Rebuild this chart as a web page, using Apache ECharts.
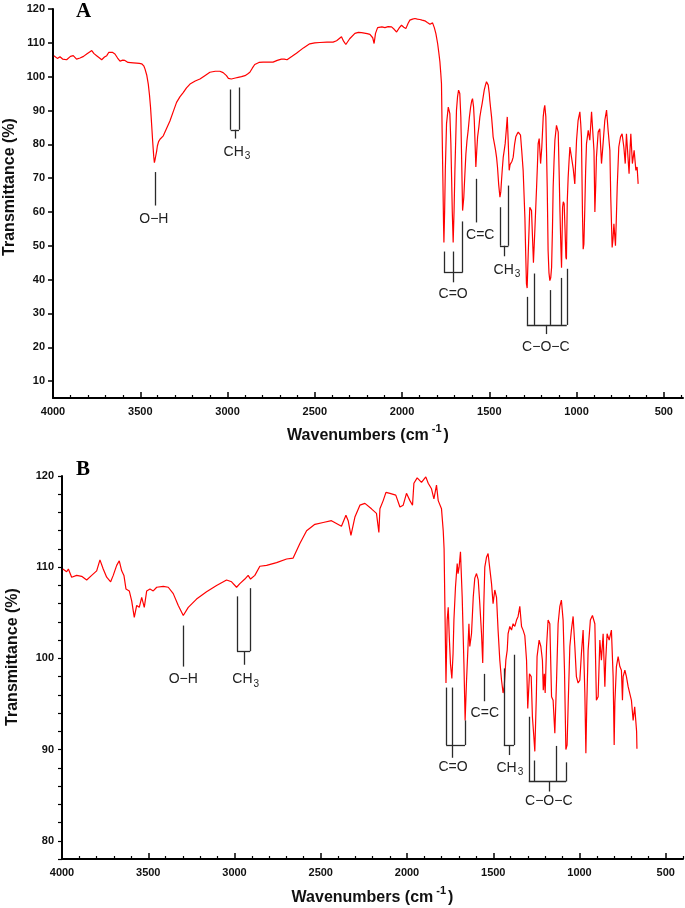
<!DOCTYPE html>
<html>
<head>
<meta charset="utf-8">
<title>FTIR spectra A / B</title>
<script src="https://cdn.jsdelivr.net/npm/echarts@6/dist/echarts.min.js"></script>
<style>
  html, body { margin: 0; padding: 0; background: #fff; }
  #chart { width: 685px; height: 908px; }
</style>
</head>
<body>
<div id="chart"></div>
<script>
// wavenumber (cm-1), transmittance (%)
var spectrumA = [
  [3995,106.2],[3975,105.4],[3960,105.9],[3945,105.2],[3922,105],[3900,106],[3884,106.2],[3865,105.2],
  [3845,105.5],[3825,106],[3807,106.7],[3790,107.3],[3778,107.7],[3765,106.8],[3750,106.2],[3735,105.6],
  [3721,105],[3705,105.8],[3692,106.2],[3680,107.2],[3673,107.7],[3660,107.2],[3645,106.7],[3630,105.5],
  [3616,104.6],[3600,104.9],[3588,104.8],[3570,104.2],[3559,104.3],[3540,104.1],[3521,104],[3505,103.9],
  [3492,103.8],[3480,103.2],[3473,102.3],[3463,100.5],[3454,97.8],[3447,94.5],[3441,90.9],[3435,86],
  [3429,81],[3423,76.5],[3419,74.6],[3414,75.8],[3410,76],[3406,78],[3402,79.5],[3395,80.8],[3387,81.5],
  [3378,82],[3368,82.5],[3350,84.6],[3330,86.9],[3310,89.8],[3292,92.4],[3272,94.1],[3254,95.3],
  [3235,96.7],[3215,97.8],[3185,98.7],[3158,99.3],[3130,100.3],[3101,101.3],[3070,101.6],[3044,101.6],
  [3025,101.2],[3006,100.3],[2995,99.5],[2987,99],[2978,99.3],[2968,99.3],[2955,99.6],[2939,99.8],
  [2920,100],[2900,100.3],[2885,100.8],[2872,101.3],[2858,102.5],[2844,103.6],[2820,104.2],[2796,104.3],
  [2770,104.3],[2739,104.3],[2715,104.8],[2691,105.2],[2675,105.2],[2659,105],[2630,106],[2605,106.9],
  [2565,108.5],[2529,109.7],[2500,110],[2471,110.1],[2430,110.2],[2395,110.2],[2375,110.6],[2366,110.7],
  [2347,111.8],[2335,110.5],[2322,109.5],[2300,111.2],[2270,112.8],[2250,113.1],[2232,113],[2200,112.7],
  [2184,112.5],[2168,111.5],[2160,109.8],[2152,112.8],[2140,114.5],[2131,114.9],[2115,114.7],[2098,114.5],
  [2080,114.8],[2060,114.7],[2045,114],[2031,113.2],[2015,114.5],[2003,115.2],[1990,114.6],[1978,114.2],
  [1965,115.8],[1955,116.7],[1940,117],[1926,117.2],[1912,117],[1898,116.9],[1885,116.7],[1869,116.5],
  [1855,116],[1840,115.5],[1825,115.9],[1815,114.5],[1806,112.7],[1796,109.8],[1789,107],[1783,104.4],
  [1778,101],[1774,98],[1770,83.2],[1766,70],[1762,56],[1760,51],[1756,60],[1752,72.3],[1745,86.1],
  [1735,91],[1730,90.5],[1726,89.1],[1720,80],[1716,70.3],[1712,60],[1707,51],[1702,60],[1697,72.3],
  [1692,82],[1688,90.1],[1682,94],[1676,96],[1669,95],[1663,88],[1659,77.2],[1653,60.4],[1646,64.4],
  [1640,71],[1634,77.2],[1628,81],[1621,84.1],[1614,88],[1607,91],[1601,92.8],[1596,93.5],[1590,91],
  [1586,87.1],[1580,78],[1577,73.3],[1572,78],[1567,82.2],[1560,85],[1554,88.1],[1548,90],[1541,92],
  [1535,94],[1529,96],[1522,97.5],[1516,98.5],[1510,98.2],[1506,97.5],[1500,95],[1497,93],[1492,90.5],
  [1487,88.1],[1482,85],[1478,82.2],[1470,80],[1464,78.2],[1458,76],[1453,73.3],[1446,68],[1439,64.4],
  [1434,66],[1430,69.3],[1425,73],[1420,76.2],[1415,78],[1409,80.2],[1403,84],[1397,88.1],[1391,80],
  [1386,72.3],[1381,74],[1376,74.3],[1370,75],[1363,76.2],[1355,80],[1348,82.2],[1341,83],[1334,83.6],
  [1328,83.5],[1321,82.7],[1314,78],[1306,72.3],[1300,64],[1296,58.4],[1291,47],[1287,38.7],[1283,37.5],
  [1277,47.6],[1272,55],[1268,61.4],[1262,61],[1258,60.4],[1252,52],[1247,45],[1245,44.6],[1239,54.5],
  [1234,61],[1229,67.3],[1224,74],[1220,80.2],[1214,81.7],[1206,74.3],[1199,79.2],[1191,88.1],[1186,90.5],
  [1182,91.5],[1176,88.1],[1172,78],[1168,67.3],[1163,48.6],[1158,42],[1153,39.7],[1148,40.5],[1143,43.6],
  [1138,55],[1134,67.3],[1129,75],[1124,81.2],[1115,85.6],[1105,83.6],[1100,72.3],[1095,60],[1090,50],
  [1086,43.5],[1080,61.4],[1076,63],[1071,62.4],[1066,55],[1061,46.6],[1058,46],[1053,63.4],[1048,70.3],
  [1043,75],[1038,79.2],[1029,76.2],[1019,72.8],[1010,68.3],[1005,75],[1000,81.2],[991,87.1],[981,89.6],
  [976,86],[972,82.2],[966,59.4],[962,49],[958,50.5],[953,60.4],[948,72],[943,80.2],[933,84.1],[924,81.2],
  [914,89.6],[905,89.6],[900,78],[895,60],[890,68],[886,76.2],[876,83.6],[867,84.6],[857,74.3],[848,80.2],
  [838,87.1],[828,90.1],[819,84.1],[809,78.2],[804,64.4],[796,49.5],[791,52],[786,56.5],[777,50],[772,58],
  [767,67.3],[758,79.2],[748,82.2],[739,83.1],[729,79.2],[721,74.3],[714,83.1],[704,83.6],[699,71.3],
  [694,78],[689,83.1],[680,74.3],[670,78.2],[660,72.3],[653,73.3],[647,68.3]
];

var spectrumB = [
  [3995,109.8],[3973,109.5],[3963,109.8],[3944,108.9],[3915,109.1],[3886,109],[3857,108.6],[3828,109.1],
  [3799,109.6],[3780,110.8],[3761,109.8],[3741,108.9],[3718,108.4],[3703,109.1],[3683,110.2],[3668,110.7],
  [3654,109.6],[3641,109.1],[3629,107.6],[3610,107.4],[3596,106.3],[3581,104.5],[3567,105.8],[3552,105.6],
  [3538,106.7],[3523,105.6],[3509,107.4],[3490,107.6],[3471,107.4],[3451,107.8],[3413,107.9],[3384,107.8],
  [3355,107.1],[3326,105.8],[3297,104.7],[3268,105.6],[3220,106.5],[3162,107.3],[3104,108],[3046,108.6],
  [3017,108.4],[2988,107.8],[2969,108.2],[2940,108.7],[2921,109.1],[2907,108.7],[2882,109.1],[2853,110.1],
  [2814,110.2],[2756,110.5],[2698,110.9],[2660,111],[2621,112.6],[2582,114],[2534,114.7],[2486,114.9],
  [2438,115.1],[2409,114.8],[2380,114.5],[2354,115.7],[2341,115.1],[2325,113.5],[2302,115.5],[2273,116.8],
  [2244,117],[2206,116.4],[2177,115.9],[2163,113.8],[2157,116.4],[2138,117.3],[2122,118.2],[2099,118.1],
  [2065,117.9],[2041,116.6],[2022,116.8],[2003,118.1],[1983,117.3],[1968,116.8],[1960,119.2],[1941,119.8],
  [1916,119.3],[1891,119.9],[1877,119.2],[1858,118.6],[1844,117.5],[1829,119],[1819,117.3],[1800,116.4],
  [1790,114],[1785,112],[1779,104],[1774,97.3],[1767,104.2],[1761,105.6],[1755,102.4],[1748,99.4],
  [1740,97.8],[1733,100.5],[1728,104.2],[1719,107.8],[1709,110.4],[1704,109.3],[1698,110],[1690,111.7],
  [1680,106.7],[1670,99.4],[1663,93.2],[1655,97.5],[1647,101],[1641,103.8],[1636,101.3],[1626,102.7],
  [1616,106.7],[1607,108.8],[1597,109.3],[1587,108.6],[1578,106],[1568,102.7],[1561,99.5],[1555,105.7],
  [1549,110],[1539,111.1],[1530,111.5],[1520,111.5],[1510,108.2],[1501,106],[1491,107.5],[1481,106.7],
  [1472,103.1],[1462,99.8],[1452,97.6],[1443,96.2],[1436,97],[1427,99.8],[1419,100.9],[1414,102.7],
  [1404,103.5],[1394,103.1],[1385,103.8],[1375,103.5],[1365,104.2],[1356,104.6],[1346,105.7],[1336,103.5],
  [1327,103.1],[1317,102.5],[1307,99.8],[1300,94.5],[1290,98.3],[1280,98],[1273,93.6],[1265,91.5],
  [1259,89.8],[1250,96],[1246,100.2],[1234,102],[1224,101.3],[1215,99.8],[1210,96.5],[1204,98.3],
  [1199,96.2],[1191,101.3],[1182,104.2],[1172,103.8],[1162,95.8],[1153,95.4],[1143,91.8],[1133,97.6],
  [1124,103.8],[1114,105.7],[1105,106.4],[1095,104.2],[1087,98.7],[1079,90],[1072,90.5],[1066,94.7],
  [1056,101.3],[1047,103.1],[1037,104.6],[1027,101.3],[1018,98],[1008,97.3],[998,97.6],[989,100.5],
  [979,103.1],[969,96.2],[963,89.6],[958,94.7],[950,100.9],[937,104.2],[925,104.7],[911,103.8],[902,95.4],
  [892,95.8],[882,102],[873,99.8],[863,102.7],[853,96.9],[848,99.8],[840,102.7],[828,102],[815,103.1],
  [805,98],[799,90.5],[795,95.1],[786,99.1],[776,100.2],[766,99.1],[757,98.7],[751,95.4],[747,98],
  [737,98.7],[728,98],[718,96.9],[709,96.2],[699,95.4],[689,93.2],[680,94.7],[674,94.7],[669,92],[667,90.1]
];

// tick positions
var xMajorTicks = [500, 1000, 1500, 2000, 2500, 3000, 3500, 4000];
var xMinorTicks = [400, 600, 700, 800, 900, 1100, 1200, 1300, 1400, 1600, 1700, 1800, 1900,
  2100, 2200, 2300, 2400, 2600, 2700, 2800, 2900, 3100, 3200, 3300, 3400, 3600, 3700, 3800, 3900];
var yTicksA = [10, 20, 30, 40, 50, 60, 70, 80, 90, 100, 110, 120];
var yLabelsB = [80, 90, 100, 110, 120];

// band assignment brackets, segments in data coordinates
var bracketsA = [
  [[3416, 71.8], [3416, 61.9]],
  [[2982, 96.2], [2982, 84.3]], [[2934, 96.8], [2934, 84.3]], [[2982, 84.3], [2934, 84.3]], [[2956, 84.3], [2956, 81.7]],
  [[1760, 48.3], [1760, 42.1]], [[1707, 48.3], [1707, 39.2]], [[1653, 57.2], [1653, 42.1]], [[1760, 42.1], [1653, 42.1]],
  [[1573, 69.8], [1573, 56.9]],
  [[1439, 61.4], [1439, 50]], [[1390, 67.8], [1390, 50]], [[1439, 50], [1390, 50]], [[1416, 50], [1416, 46.9]],
  [[1285, 34.9], [1285, 26.6]], [[1245, 41.8], [1245, 26.6]], [[1153, 36.9], [1153, 26.6]],
  [[1086, 40.5], [1086, 26.6]], [[1056, 43.2], [1056, 26.6]], [[1285, 26.6], [1056, 26.6]], [[1176, 26.6], [1176, 23.9]]
];
var bracketsB = [
  [[3297, 103.6], [3297, 99.1]],
  [[2986, 106.8], [2986, 100.8]], [[2909, 107.7], [2909, 100.8]], [[2986, 100.8], [2909, 100.8]], [[2946, 100.8], [2946, 99.3]],
  [[1773, 96.8], [1773, 90.5]], [[1736, 96.8], [1736, 89.1]], [[1663, 93.2], [1663, 90.5]], [[1773, 90.5], [1663, 90.5]],
  [[1555, 98.3], [1555, 95.3]],
  [[1439, 98.9], [1439, 90.5]], [[1379, 100.4], [1379, 90.5]], [[1439, 90.5], [1379, 90.5]], [[1408, 90.5], [1408, 89.4]],
  [[1294, 93.6], [1294, 86.5]], [[1263, 88.8], [1263, 86.5]], [[1137, 90.4], [1137, 86.5]],
  [[1078, 88.6], [1078, 86.5]], [[1294, 86.5], [1078, 86.5]], [[1178, 86.5], [1178, 85.4]]
];
var bandLabelsA = [
  { text: 'O\u2212H', at: [3422, 57.9] },
  { text: '{t|CH}{s|3}', at: [2946, 77.7] },
  { text: 'C=O', at: [1707, 35.8] },
  { text: 'C=C', at: [1552, 53.2] },
  { text: '{t|CH}{s|3}', at: [1399, 42.9] },
  { text: 'C\u2212O\u2212C', at: [1176, 20.1] }
];
var bandLabelsB = [
  { text: 'O\u2212H', at: [3297, 97.7] },
  { text: '{t|CH}{s|3}', at: [2935, 97.7] },
  { text: 'C=O', at: [1733, 88.1] },
  { text: 'C=C', at: [1549, 94.0] },
  { text: '{t|CH}{s|3}', at: [1404, 88.0] },
  { text: 'C\u2212O\u2212C', at: [1178, 84.3] }
];

var sans = 'Liberation Sans, Arial, sans-serif';

function markLines(segs) {
  return {
    silent: true,
    symbol: ['none', 'none'],
    label: { show: false },
    lineStyle: { color: '#2a2a2a', width: 1.3, type: 'solid' },
    emphasis: { disabled: true },
    data: segs.map(function (s) { return [{ coord: s[0] }, { coord: s[1] }]; })
  };
}

function markLabels(list) {
  return {
    silent: true,
    symbol: 'circle',
    symbolSize: 1,
    itemStyle: { color: 'rgba(0,0,0,0)' },
    label: {
      show: true,
      position: 'inside',
      color: '#222',
      fontFamily: sans,
      fontSize: 14,
      rich: {
        t: { fontFamily: sans, fontSize: 14, color: '#222', lineHeight: 16 },
        s: { fontFamily: sans, fontSize: 10, color: '#222', lineHeight: 16, padding: [9, 0, 0, 1] }
      }
    },
    data: list.map(function (l) {
      return { coord: l.at, label: { formatter: l.text } };
    })
  };
}

var xNameStyle = {
  rich: {
    t: { fontFamily: sans, fontWeight: 'bold', fontSize: 16, color: '#111', lineHeight: 26 },
    sup: { fontFamily: sans, fontWeight: 'bold', fontSize: 11, color: '#111', lineHeight: 12, verticalAlign: 'top', padding: [0, 2, 0, 3] }
  }
};

function plain(v) { return String(v); }

function mainX(gridIndex, min, gap) {
  return {
    gridIndex: gridIndex,
    type: 'value',
    position: 'bottom',
    inverse: true,
    min: min,
    max: 4000,
    name: '{t|Wavenumbers (cm}{sup|-1}{t|)}',
    nameLocation: 'middle',
    nameGap: gap,
    nameTextStyle: xNameStyle,
    axisLine: { show: true, onZero: false, lineStyle: { color: '#000', width: 2 } },
    axisTick: { show: true, inside: true, length: 6, customValues: xMajorTicks, lineStyle: { color: '#000', width: 1.5 } },
    axisLabel: {
      customValues: xMajorTicks, showMinLabel: true, showMaxLabel: true, margin: 8, formatter: plain,
      fontFamily: sans, fontWeight: 'bold', fontSize: 11, color: '#111'
    },
    splitLine: { show: false }
  };
}
function minorX(gridIndex, min) {
  return {
    gridIndex: gridIndex,
    type: 'value',
    position: 'bottom',
    inverse: true,
    min: min,
    max: 4000,
    axisLine: { show: false, onZero: false },
    axisTick: { show: true, inside: true, length: 3, customValues: xMinorTicks, lineStyle: { color: '#000', width: 1.2 } },
    axisLabel: { show: false },
    splitLine: { show: false }
  };
}

var chart = echarts.init(document.getElementById('chart'), null, { renderer: 'canvas' });

var option = {
  animation: false,
  backgroundColor: '#fff',
  title: [
    { text: 'A', left: 76, top: 1, padding: 0, textStyle: { fontFamily: 'Liberation Serif, Times New Roman, serif', fontWeight: 'bold', fontSize: 21, color: '#000' } },
    { text: 'B', left: 76, top: 459, padding: 0, textStyle: { fontFamily: 'Liberation Serif, Times New Roman, serif', fontWeight: 'bold', fontSize: 21, color: '#000' } }
  ],
  grid: [
    { left: 53, right: 2, top: 9, height: 389 },
    { left: 62, right: 2, top: 476, height: 383 }
  ],
  xAxis: [mainX(0, 390, 25), minorX(0, 390), mainX(1, 400, 26), minorX(1, 400)],
  yAxis: [
    {
      gridIndex: 0, type: 'value', min: 5, max: 120,
      axisLine: { show: true, onZero: false, lineStyle: { color: '#000', width: 2 } },
      axisTick: { show: true, length: 5, customValues: yTicksA, lineStyle: { color: '#000', width: 1.5 } },
      axisLabel: { customValues: yTicksA, margin: 8, fontFamily: sans, fontWeight: 'bold', fontSize: 11, color: '#111' },
      splitLine: { show: false }
    },
    {
      gridIndex: 1, type: 'value', min: 78, max: 120, interval: 2,
      axisLine: { show: true, onZero: false, lineStyle: { color: '#000', width: 2 } },
      axisTick: { show: true, length: 4, lineStyle: { color: '#000', width: 1.2 } },
      axisLabel: { customValues: yLabelsB, margin: 8, fontFamily: sans, fontWeight: 'bold', fontSize: 11, color: '#111' },
      splitLine: { show: false }
    }
  ],
  graphic: [
    {
      type: 'text', x: 10, y: 187, rotation: Math.PI / 2,
      style: { text: 'Transmittance (%)', align: 'center', verticalAlign: 'middle', fontFamily: sans, fontWeight: 'bold', fontSize: 16, fill: '#111' }
    },
    {
      type: 'text', x: 13, y: 657, rotation: Math.PI / 2,
      style: { text: 'Transmittance (%)', align: 'center', verticalAlign: 'middle', fontFamily: sans, fontWeight: 'bold', fontSize: 16, fill: '#111' }
    }
  ],
  series: [
    {
      name: 'A', type: 'line', xAxisIndex: 0, yAxisIndex: 0,
      data: spectrumA, showSymbol: false, symbol: 'none', sampling: 'none',
      lineStyle: { color: '#ff0000', width: 1.2 },
      markLine: markLines(bracketsA),
      markPoint: markLabels(bandLabelsA)
    },
    {
      name: 'B', type: 'line', xAxisIndex: 2, yAxisIndex: 1,
      data: spectrumB, showSymbol: false, symbol: 'none', sampling: 'none',
      lineStyle: { color: '#ff0000', width: 1.2 },
      markLine: markLines(bracketsB),
      markPoint: markLabels(bandLabelsB)
    }
  ]
};

chart.setOption(option);
</script>
</body>
</html>
